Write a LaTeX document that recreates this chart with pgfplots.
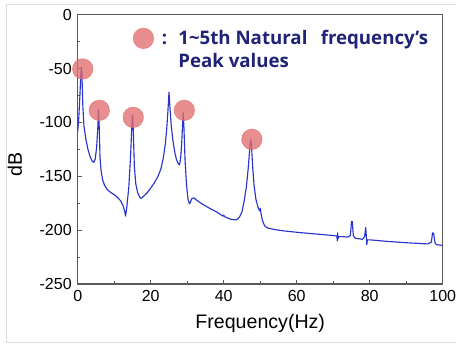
\documentclass[border=0pt]{standalone}
\usepackage{fontspec}
\setmainfont{Liberation Sans}
\newfontfamily\annfont{Open Sans}
\usepackage{pgfplots}
\pgfplotsset{compat=1.18}
\definecolor{curve}{RGB}{40,50,205}
\definecolor{peak}{RGB}{226,110,110}
\definecolor{ann}{RGB}{30,35,120}
\definecolor{axgray}{RGB}{90,90,90}
\begin{document}
\begin{tikzpicture}
\draw[color={rgb,255:red,220;green,220;blue,220}, line width=0.6pt] (5pt,2.5pt) rectangle (342pt,256pt);
\begin{axis}[
  at={(58.3pt,46.5pt)}, anchor=south west,
  scale only axis, width=273.75pt, height=202pt,
  xmin=0, xmax=100, ymin=-250, ymax=0,
  xtick={0,20,40,60,80,100},
  xticklabels={0,20,40,60,80,100},
  minor xtick={10,30,50,70,90},
  ytick={-250,-200,-150,-100,-50,0},
  yticklabels={-250,-200,-150,-100,-50,0},
  minor ytick={-225,-175,-125,-75,-25},
  tick align=inside,
  xtick pos=bottom, ytick pos=left,
  major tick length=3pt, minor tick length=2pt,
  axis line style={axgray, line width=0.8pt},
  every tick/.style={axgray, line width=0.6pt},
  tick label style={font=\fontsize{12}{14}\selectfont, text=black},
  xticklabel style={yshift=-1pt},
  yticklabel style={xshift=-1pt},
  xlabel={Frequency(Hz)},
  xlabel style={font=\fontsize{14.7}{16}\selectfont, yshift=-3pt},
  ylabel={dB},
  ylabel style={font=\fontsize{14.7}{16}\selectfont, at={(axis description cs:-0.205,0.445)}, anchor=north},
  clip=false,
]
\addplot[curve, line width=0.85pt, line join=round] coordinates {
(0,-108) (0.3,-95) (0.6,-75) (0.85,-55) (1.0,-49) (1.15,-55) (1.4,-85) (1.7,-103) (2.2,-115) (2.8,-125) (3.4,-132) (4.0,-136) (4.4,-137) (4.8,-134) (5.2,-122) (5.5,-105) (5.7,-88) (5.9,-105) (6.1,-132) (6.4,-145) (6.8,-153) (7.3,-158) (8.0,-162) (9.0,-165) (10.0,-167) (11.0,-170) (11.8,-173) (12.5,-178) (12.9,-183) (13.1,-187) (13.4,-180) (14.0,-160) (14.5,-130) (14.8,-105) (15.0,-93) (15.2,-105) (15.5,-140) (15.9,-157) (16.4,-165) (17.0,-169.5) (17.4,-170.5) (18.2,-168) (19.0,-165.5) (20.0,-161) (21.0,-156) (22.0,-150) (22.8,-143) (23.5,-132) (24.0,-120) (24.4,-105) (24.7,-90) (25.0,-72) (25.3,-88) (25.6,-102) (26.0,-115) (26.5,-126) (27.0,-134) (27.5,-138) (27.9,-139.5) (28.2,-133) (28.5,-118) (28.75,-100) (28.9,-91) (29.1,-105) (29.4,-135) (29.8,-158) (30.2,-171) (30.6,-175.5) (30.9,-174) (31.2,-171) (31.8,-170) (32.5,-172) (34.0,-175.5) (36.0,-179.5) (38.0,-183) (39.8,-187) (40.0,-186) (40.2,-187.5) (42.0,-190) (43.5,-190.5) (44.3,-188) (45.0,-183) (45.6,-173) (46.2,-160) (46.7,-143) (47.0,-130) (47.2,-121) (47.4,-116) (47.6,-121) (47.9,-140) (48.3,-158) (48.8,-171) (49.4,-179) (49.8,-182) (50.0,-180) (50.2,-184) (50.6,-191) (51.2,-196) (52.0,-198) (54.0,-199.5) (56.0,-200.5) (60.0,-202) (65.0,-203.5) (70.0,-205) (71.0,-205.5) (71.1,-210) (71.2,-202.5) (71.3,-208) (71.5,-206) (72.5,-206) (74.0,-206.5) (74.7,-205) (75.0,-192) (75.2,-192) (75.5,-205) (76.0,-207.5) (78.0,-208.5) (78.6,-206) (78.9,-197.5) (79.1,-207) (79.2,-213.5) (79.35,-209) (80.0,-209) (85.0,-210.5) (90.0,-211.7) (96.0,-212.8) (96.9,-211) (97.2,-202.5) (97.5,-203) (97.9,-212) (98.3,-213.5) (100,-214.2)
};
\addplot[only marks, mark=*, mark size=7.7pt, color=peak, mark options={solid, opacity=0.78}] coordinates {
(1.37,-50.4) (5.9,-88.8) (15.2,-95.3) (29.2,-88.8) (47.7,-115.7) (18.0,-22.0)
};
\node[anchor=base west, text=ann, font=\annfont\bfseries\fontsize{14}{16}\selectfont, inner sep=0pt] at (axis cs:23.0,-28.1) {:};
\node[anchor=base west, text=ann, font=\annfont\bfseries\fontsize{14}{16}\selectfont, inner sep=0pt] at (axis cs:27.5,-28.1) {1\textasciitilde5th Natural\hspace{10pt}frequency’s};
\node[anchor=base west, text=ann, font=\annfont\bfseries\fontsize{14}{16}\selectfont, inner sep=0pt] at (axis cs:27.5,-49.5) {Peak values};
\end{axis}
\pgfresetboundingbox
\useasboundingbox (0,0) rectangle (342pt,259.5pt);
\end{tikzpicture}
\end{document}
